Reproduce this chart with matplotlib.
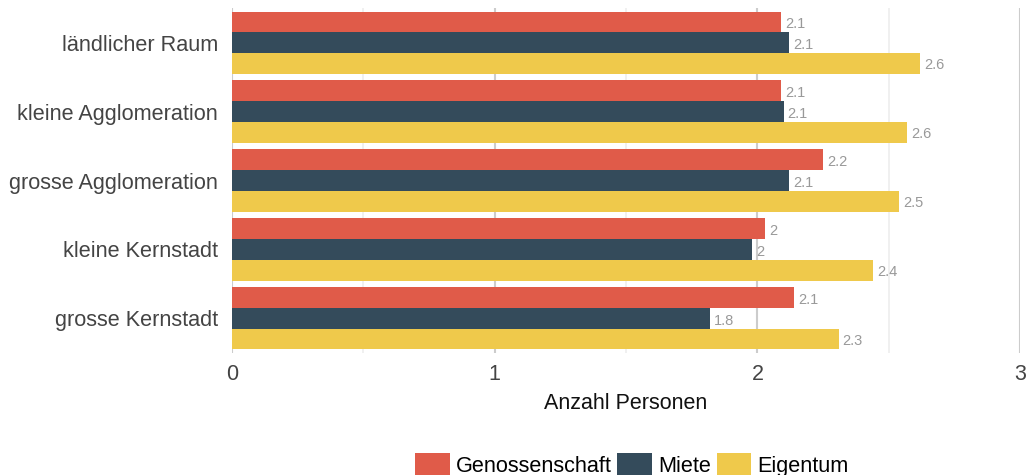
import numpy as np
import matplotlib.pyplot as plt
from matplotlib.ticker import MultipleLocator

plt.rcParams['font.family'] = ['Liberation Sans', 'DejaVu Sans']

# Daten
kategorien = ['ländlicher Raum', 'kleine Agglomeration', 'grosse Agglomeration',
              'kleine Kernstadt', 'grosse Kernstadt']
serien = ['Genossenschaft', 'Miete', 'Eigentum']
genossenschaft = [2.09, 2.09, 2.25, 2.03, 2.14]
miete = [2.12, 2.10, 2.12, 1.98, 1.82]
eigentum = [2.62, 2.57, 2.54, 2.44, 2.31]
farben = ['#e05b49', '#344b5b', '#efc94b']

werte = [genossenschaft, miete, eigentum]

fig = plt.figure(figsize=(10.29, 4.75), dpi=100)
ax = fig.add_axes([0.2255, 0.257, 0.9913 - 0.2255, 0.983 - 0.257])

y = np.arange(len(kategorien))
h = 0.3
for i, (name, vals, col) in enumerate(zip(serien, werte, farben)):
    pos = y + (i - 1) * h
    ax.barh(pos, vals, height=h, color=col, label=name, zorder=3)
    for p, v in zip(pos, vals):
        txt = f'{v:.1f}'.rstrip('0').rstrip('.')
        ax.text(v + 0.015, p + 0.03, txt, va='center', ha='left',
                fontsize=10.5, color='#999999', zorder=4)

ax.set_xlim(0, 3)
ax.set_ylim(len(kategorien) - 0.5, -0.5)
ax.set_yticks(y)
ax.set_yticklabels(kategorien, fontsize=15.6, color='#444444')
ax.xaxis.set_major_locator(MultipleLocator(1))
ax.xaxis.set_minor_locator(MultipleLocator(0.5))
ax.tick_params(axis='x', which='both', length=0, labelsize=15.5,
               labelcolor='#444444', pad=8)
ax.tick_params(axis='y', length=0, pad=10)
ax.grid(axis='x', which='major', color='#cccccc', linewidth=1.5, zorder=0)
ax.grid(axis='x', which='minor', color='#eeeeee', linewidth=1.2, zorder=0)
for s in ax.spines.values():
    s.set_visible(False)
ax.set_xlabel('Anzahl Personen', fontsize=15.5, color='#111111', labelpad=6)

fig.legend(loc='lower center', bbox_to_anchor=(0.614, -0.045), ncol=3,
           frameon=False, fontsize=15.6, handlelength=1.6, handleheight=1.3,
           handletextpad=0.28, columnspacing=0.27)

fig.savefig('out.png', dpi=100)
